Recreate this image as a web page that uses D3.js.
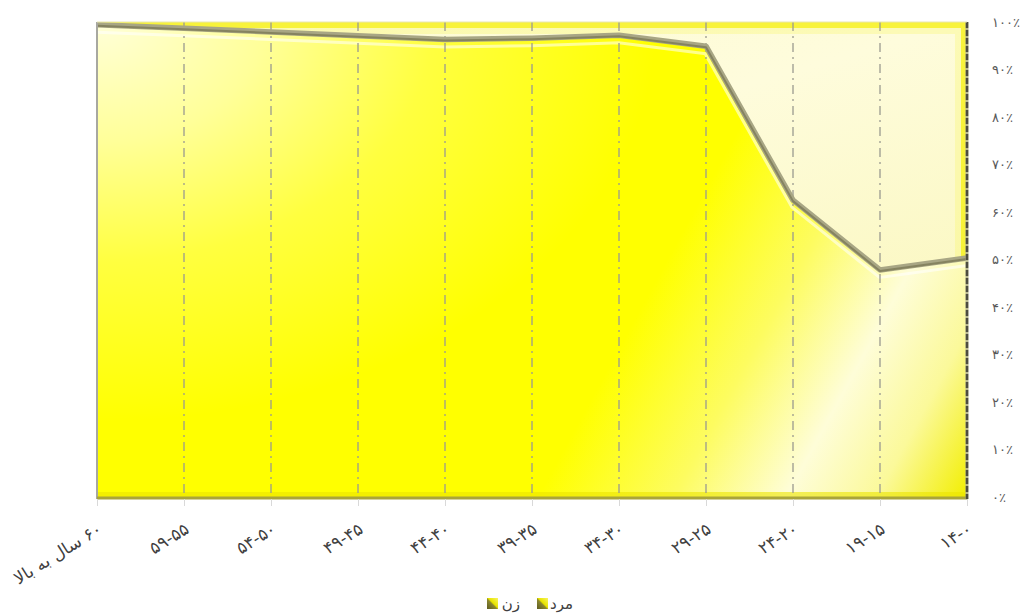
<!DOCTYPE html>
<html>
<head>
<meta charset="utf-8">
<script src="https://cdn.jsdelivr.net/npm/d3@7"></script>
<style>
  html, body { margin: 0; padding: 0; background: #ffffff; }
  svg { display: block; }
  text { font-family: "DejaVu Sans", "Noto Sans", sans-serif; }
</style>
</head>
<body>
<svg id="chart" width="1028" height="615"></svg>
<script>
// ---- data ----
const categories = ["۶۰ سال به بالا", "۵۹-۵۵", "۵۴-۵۰", "۴۹-۴۵", "۴۴-۴۰", "۳۹-۳۵", "۳۴-۳۰", "۲۹-۲۵", "۲۴-۲۰", "۱۹-۱۵", "۱۴-۰"];
const seriesNames = ["مرد", "زن"];
const menValues   = [99.4, 98.7, 97.9, 97.1, 96.3, 96.6, 97.2, 94.9, 62.5, 47.8, 50.3];
const womenValues = [0.6, 1.3, 2.1, 2.9, 3.7, 3.4, 2.8, 5.1, 37.5, 52.2, 49.7];
const yTickValues = [0, 0.1, 0.2, 0.3, 0.4, 0.5, 0.6, 0.7, 0.8, 0.9, 1.0];
const yTickLabels = ["۰٪", "۱۰٪", "۲۰٪", "۳۰٪", "۴۰٪", "۵۰٪", "۶۰٪", "۷۰٪", "۸۰٪", "۹۰٪", "۱۰۰٪"];

const rows = categories.map((c, i) => ({ cat: c, "مرد": menValues[i], "زن": womenValues[i] }));

const svg = d3.select("#chart");
const L = 97, R = 967, T = 22, B = 497;

const x = d3.scalePoint().domain(categories).range([L, R]);
const y = d3.scaleLinear().domain([0, 1]).range([B, T]);

const stack = d3.stack().keys(seriesNames).offset(d3.stackOffsetExpand);
const stacked = stack(rows);

const defs = svg.append("defs");

// lower area gradient (diagonal band)
const g1 = defs.append("linearGradient").attr("id", "lowGrad")
  .attr("gradientUnits", "userSpaceOnUse")
  .attr("x1", L).attr("y1", T).attr("x2", R).attr("y2", B);
[[0, "#ffff00"], [0.62, "#ffff00"], [0.74, "#fdfc60"], [0.84, "#fefdd8"], [0.92, "#fbf99a"], [1, "#f2ee00"]]
  .forEach(s => g1.append("stop").attr("offset", s[0]).attr("stop-color", s[1]));

// top-left white highlight (elliptical, wider horizontally)
const g4 = defs.append("radialGradient").attr("id", "hiGrad")
  .attr("gradientUnits", "userSpaceOnUse")
  .attr("cx", 0).attr("cy", 0).attr("r", 1)
  .attr("gradientTransform", `translate(${L},${T}) scale(560,400)`);
[[0, 0.85], [0.3, 0.6], [0.6, 0.25], [1, 0]]
  .forEach(s => g4.append("stop").attr("offset", s[0]).attr("stop-color", "#ffffff").attr("stop-opacity", s[1]));

// upper area gradient
const g2 = defs.append("linearGradient").attr("id", "upGrad")
  .attr("x1", 0).attr("y1", 0).attr("x2", 1).attr("y2", 1);
[[0, "#fdfbd0"], [0.5, "#fefcdc"], [1, "#fbf8c4"]]
  .forEach(s => g2.append("stop").attr("offset", s[0]).attr("stop-color", s[1]));

// swatch gradient
const g3 = defs.append("linearGradient").attr("id", "swGrad")
  .attr("x1", 0).attr("y1", 1).attr("x2", 1).attr("y2", 0);
[[0, "#5e5c20"], [0.45, "#8a8630"], [0.55, "#e8e400"], [1, "#f8f560"]]
  .forEach(s => g3.append("stop").attr("offset", s[0]).attr("stop-color", s[1]));

const area = d3.area()
  .x((d, i) => x(categories[i]))
  .y0(d => y(d[0]))
  .y1(d => y(d[1]));

const boundary = d3.line()
  .x((d, i) => x(categories[i]))
  .y(d => y(d[1]));

// clip paths
defs.append("clipPath").attr("id", "clipLow").append("path").attr("d", area(stacked[0]));
defs.append("clipPath").attr("id", "clipUp").append("path").attr("d", area(stacked[1]));

// areas
svg.append("path").attr("d", area(stacked[0])).attr("fill", "url(#lowGrad)");
svg.append("path").attr("d", area(stacked[0])).attr("fill", "url(#hiGrad)");
svg.append("path").attr("d", area(stacked[1])).attr("fill", "url(#upGrad)");

// bevel edges of upper area (yellow rim)
svg.append("rect").attr("clip-path", "url(#clipUp)")
  .attr("x", L).attr("y", T).attr("width", R - L).attr("height", B - T)
  .attr("fill", "none").attr("stroke", "#f6f000").attr("stroke-width", 12).attr("opacity", 0.8);
svg.append("rect").attr("clip-path", "url(#clipUp)")
  .attr("x", L).attr("y", T).attr("width", R - L).attr("height", B - T)
  .attr("fill", "none").attr("stroke", "#f9f560").attr("stroke-width", 24).attr("opacity", 0.3);

// white highlight below boundary within lower area
svg.append("path").attr("clip-path", "url(#clipLow)")
  .attr("d", boundary(stacked[0])).attr("transform", "translate(0,6)")
  .attr("fill", "none").attr("stroke", "#ffffff").attr("stroke-width", 6).attr("opacity", 0.55);

// bottom bevel shade of lower area
svg.append("rect").attr("clip-path", "url(#clipLow)")
  .attr("x", L).attr("y", B - 5).attr("width", R - L).attr("height", 5)
  .attr("fill", "#ebe400").attr("opacity", 0.6);

// vertical dash-dot gridlines
svg.append("g").selectAll("line").data(categories.slice(1, -1)).join("line")
  .attr("x1", d => x(d)).attr("x2", d => x(d))
  .attr("y1", T).attr("y2", B)
  .attr("stroke", "#9a9a90").attr("stroke-width", 1.3)
  .attr("stroke-dasharray", "9,5,2,5");

// boundary line between series
svg.append("path").attr("d", boundary(stacked[0]))
  .attr("fill", "none").attr("stroke", "#a8a684").attr("stroke-width", 5.5)
  .attr("stroke-linejoin", "round");
svg.append("path").attr("d", boundary(stacked[0]))
  .attr("fill", "none").attr("stroke", "#858360").attr("stroke-width", 2)
  .attr("transform", "translate(0,1)")
  .attr("stroke-linejoin", "round");

// plot border: left, bottom, right edges
svg.append("line").attr("x1", L).attr("x2", L).attr("y1", T).attr("y2", B + 2)
  .attr("stroke", "#a8a8a0").attr("stroke-width", 2);
svg.append("line").attr("x1", L).attr("x2", R).attr("y1", B + 1).attr("y2", B + 1)
  .attr("stroke", "#a9a43a").attr("stroke-width", 3);
svg.append("line").attr("x1", R).attr("x2", R).attr("y1", T).attr("y2", B + 2)
  .attr("stroke", "#b8b890").attr("stroke-width", 3);
svg.append("line").attr("x1", R).attr("x2", R).attr("y1", T).attr("y2", B + 2)
  .attr("stroke", "#4c4c40").attr("stroke-width", 2.5).attr("stroke-dasharray", "6,2");
svg.append("line").attr("x1", L).attr("x2", R).attr("y1", T).attr("y2", T)
  .attr("stroke", "#e8e6b0").attr("stroke-width", 1);

// x axis ticks and labels
const xAxis = d3.axisBottom(x).tickSize(7).tickFormat("");
const gx = svg.append("g").attr("transform", `translate(0,${B + 2})`).call(xAxis);
gx.select(".domain").remove();
gx.selectAll(".tick line").attr("stroke", "#d9d9d9");

svg.append("g").selectAll("text").data(categories).join("text")
  .attr("transform", d => `translate(${x(d) + 3},${B + 30}) rotate(-32)`)
  .attr("text-anchor", "end")
  .attr("dominant-baseline", "central")
  .attr("font-size", 17)
  .attr("fill", "#404040")
  .text((d, i) => i === 0 ? "\u200F" + d + "\u200F" : d);

// y axis labels (right)
const yAxis = d3.axisRight(y).tickValues(yTickValues).tickSize(0).tickPadding(0)
  .tickFormat((d, i) => yTickLabels[i]);
const gy = svg.append("g").attr("transform", `translate(992,0)`).call(yAxis);
gy.select(".domain").remove();
gy.selectAll("text").attr("font-size", 13).attr("fill", "#595959")
  .attr("font-family", "'DejaVu Sans', sans-serif").attr("x", 0);

// legend
const legendItems = [
  { name: seriesNames[1], sx: 487, tx: 520 },
  { name: seriesNames[0], sx: 537, tx: 573 }
];
const lg = svg.append("g");
legendItems.forEach(it => {
  lg.append("rect").attr("x", it.sx).attr("y", 598).attr("width", 11).attr("height", 11)
    .attr("fill", "url(#swGrad)");
  lg.append("text").attr("x", it.tx).attr("y", 604)
    .attr("text-anchor", "end").attr("dominant-baseline", "central")
    .attr("font-size", 15).attr("fill", "#404040")
    .text(it.name);
});
</script>
</body>
</html>
